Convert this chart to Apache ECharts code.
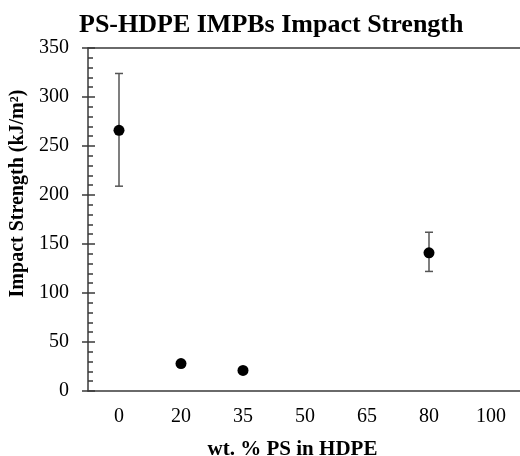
<!DOCTYPE html>
<html>
<head>
<meta charset="utf-8">
<script src="https://cdn.jsdelivr.net/npm/echarts@6/dist/echarts.min.js"></script>
<style>
  html, body { margin: 0; padding: 0; background: #fff; }
  #chart { width: 520px; height: 456px; }
</style>
</head>
<body>
<div id="chart"></div>
<script>
// wt. % PS in HDPE (evenly spaced categories)
var xCats = ['0', '20', '35', '50', '65', '80', '100'];
// measured points: category, mean, low, high
var ptCats = ['0', '20', '35', '80'];
var ptMean = [266, 28, 21, 141];
var ptLow = [209, 25, 19, 122];
var ptHigh = [324, 31, 23, 162];

var serif = '"Liberation Serif", "Times New Roman", serif';
var axisColor = '#3a3a3a';

var scatterData = ptCats.map(function (c, i) { return [c, ptMean[i]]; });
var errData = ptCats.map(function (c, i) { return [c, ptLow[i], ptHigh[i]]; });

var chart = echarts.init(document.getElementById('chart'));
var option = {
    animation: false,
    title: {
        text: 'PS-HDPE IMPBs Impact Strength',
        left: 74,
        top: 7,
        textStyle: { fontFamily: serif, fontSize: 26, fontWeight: 'bold', color: '#000' }
    },
    grid: { left: 88, right: -2, top: 48, bottom: 65, outerBoundsMode: 'none' },
    xAxis: [
        {
            type: 'category',
            data: xCats,
            position: 'bottom',
            axisLine: { lineStyle: { color: axisColor, width: 1.5 } },
            axisTick: { alignWithLabel: true, length: 4, lineStyle: { color: axisColor, width: 1.5 } },
            axisLabel: { margin: 16, fontFamily: serif, fontSize: 20, color: '#000' },
            splitLine: { show: false },
            name: 'wt. % PS in HDPE',
            nameLocation: 'middle',
            nameGap: 48,
            nameTextStyle: { fontFamily: serif, fontSize: 21, fontWeight: 'bold', color: '#000', padding: [0, 25, 0, 0] }
        },
        {
            type: 'category',
            data: xCats,
            position: 'bottom',
            axisLine: { show: false },
            axisTick: { alignWithLabel: true, inside: true, length: 4, lineStyle: { color: axisColor, width: 1.5 } },
            axisLabel: { show: false },
            splitLine: { show: false }
        },
        {
            type: 'category',
            data: xCats,
            position: 'top',
            axisLine: { lineStyle: { color: axisColor, width: 1.5 } },
            axisTick: { show: false },
            axisLabel: { show: false },
            splitLine: { show: false }
        }
    ],
    yAxis: [
        {
            type: 'value',
            position: 'left',
            min: 0,
            max: 350,
            interval: 50,
            axisLine: { show: true, lineStyle: { color: axisColor, width: 1.5 } },
            axisTick: { show: true, length: 6, lineStyle: { color: axisColor, width: 1.5 } },
            axisLabel: { margin: 19, fontFamily: serif, fontSize: 20, color: '#000' },
            splitLine: { show: false },
            name: 'Impact Strength (kJ/m²)',
            nameLocation: 'middle',
            nameGap: 57,
            nameTextStyle: { fontFamily: serif, fontSize: 20, fontWeight: 'bold', color: '#000', padding: [0, 0, 0, 52] }
        },
        {
            type: 'value',
            position: 'left',
            offset: 0,
            min: 0,
            max: 350,
            interval: 50,
            axisLine: { show: false },
            axisTick: { show: true, inside: true, length: 7, lineStyle: { color: axisColor, width: 1.5 } },
            minorTick: { show: true, splitNumber: 5, length: 5, lineStyle: { color: axisColor, width: 1.5 } },
            axisLabel: { show: false },
            splitLine: { show: false }
        }
    ],
    series: [
        {
            type: 'custom',
            xAxisIndex: 0,
            yAxisIndex: 0,
            data: errData,
            renderItem: function (params, api) {
                var top = api.coord([api.value(0), api.value(2)]);
                var bot = api.coord([api.value(0), api.value(1)]);
                var hw = 4;
                var st = { stroke: '#555', lineWidth: 1.5 };
                return {
                    type: 'group',
                    children: [
                        { type: 'line', shape: { x1: top[0], y1: top[1], x2: bot[0], y2: bot[1] }, style: st },
                        { type: 'line', shape: { x1: top[0] - hw, y1: top[1], x2: top[0] + hw, y2: top[1] }, style: st },
                        { type: 'line', shape: { x1: bot[0] - hw, y1: bot[1], x2: bot[0] + hw, y2: bot[1] }, style: st }
                    ]
                };
            },
            z: 2
        },
        {
            type: 'scatter',
            xAxisIndex: 0,
            yAxisIndex: 0,
            data: scatterData,
            symbol: 'circle',
            symbolSize: 11,
            itemStyle: { color: '#000', opacity: 1 },
            z: 3
        }
    ]
};
chart.setOption(option);
</script>
</body>
</html>
